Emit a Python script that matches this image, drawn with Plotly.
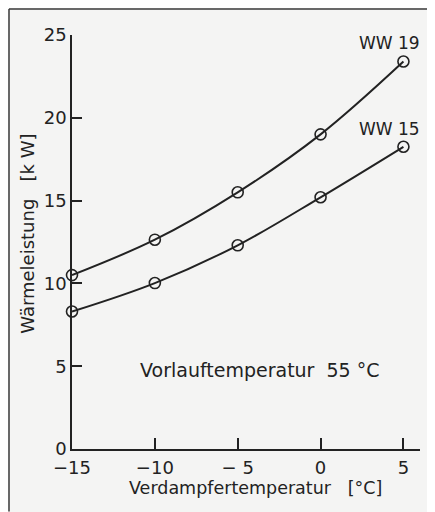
import plotly.graph_objects as go

# Data
verdampfer_temp = [-15, -10, -5, 0, 5]          # °C
ww19_kw = [10.5, 12.64, 15.5, 19.0, 23.4]
ww15_kw = [8.3, 10.02, 12.3, 15.2, 18.25]
x_ticks = [-15, -10, -5, 0, 5]
x_ticklabels = ["−15", "−10", "− 5", "0", "5"]
y_ticks = [0, 5, 10, 15, 20, 25]
y_ticklabels = ["0", "5", "10", "15", "20", "25"]

OFF = 8  # page body margin offset
W, H = 435 - OFF, 512 - OFF
ML, MR, MT = 72 - OFF, 15, 35 - OFF
PW = W - ML - MR
PH = 414.5
MB = H - MT - PH

INK = "#222222"
BG = "#f4f4f3"
FONT = "DejaVu Sans"

fig = go.Figure()
for ys in (ww19_kw, ww15_kw):
    fig.add_trace(go.Scatter(
        x=verdampfer_temp, y=ys, mode="lines+markers",
        line=dict(color=INK, width=2, shape="spline", smoothing=1.0),
        marker=dict(symbol="circle-open", size=11, color=INK, line=dict(width=1.6, color=INK)),
        cliponaxis=False, showlegend=False, hoverinfo="x+y",
    ))

def px2paper_x(px):
    # px given in screenshot coordinates
    return (px - OFF - ML) / PW

def px2paper_y(py):
    return (H - MB - (py - OFF)) / PH

shapes = [
    dict(type="line", xref="paper", yref="paper",
         x0=px2paper_x(9), x1=px2paper_x(9), y0=px2paper_y(9), y1=px2paper_y(512),
         line=dict(color="#3a3a3a", width=1.5)),
    dict(type="line", xref="paper", yref="paper",
         x0=px2paper_x(9), x1=px2paper_x(440), y0=px2paper_y(9), y1=px2paper_y(9),
         line=dict(color="#3a3a3a", width=1.5)),
]

annotations = [
    dict(x=4.15, y=24.5, xref="x", yref="y", text="WW 19", showarrow=False,
         xanchor="center", yanchor="middle",
         font=dict(size=17, color=INK, family=FONT)),
    dict(x=4.15, y=19.3, xref="x", yref="y", text="WW 15", showarrow=False,
         xanchor="center", yanchor="middle",
         font=dict(size=17, color=INK, family=FONT)),
    dict(x=-3.65, y=4.75, xref="x", yref="y", text="Vorlauftemperatur  55 °C", showarrow=False,
         xanchor="center", yanchor="middle",
         font=dict(size=19, color=INK, family=FONT)),
    dict(x=px2paper_x(255), y=px2paper_y(489), xref="paper", yref="paper",
         text="Verdampfertemperatur   [°C]", showarrow=False,
         xanchor="center", yanchor="middle",
         font=dict(size=17.5, color=INK, family=FONT)),
    dict(x=px2paper_x(28), y=px2paper_y(234), xref="paper", yref="paper",
         text="Wärmeleistung   [k W]", showarrow=False, textangle=-90,
         xanchor="center", yanchor="middle",
         font=dict(size=18, color=INK, family=FONT)),
]

fig.update_layout(
    width=W, height=H,
    margin=dict(l=ML, r=MR, t=MT, b=MB, pad=0),
    paper_bgcolor=BG, plot_bgcolor=BG,
    font=dict(family=FONT, color=INK, size=18),
    shapes=shapes, annotations=annotations,
    xaxis=dict(range=[-15, 6], showgrid=False, zeroline=False, showline=True,
               linecolor=INK, linewidth=1.5, ticks="inside", ticklen=11, tickwidth=1.5,
               tickcolor=INK, tickvals=x_ticks, ticktext=x_ticklabels, ticklabelstandoff=2,
               tickfont=dict(size=18, family=FONT, color=INK), fixedrange=True),
    yaxis=dict(range=[0, 25], showgrid=False, zeroline=False, showline=True,
               linecolor=INK, linewidth=1.5, ticks="inside", ticklen=10, tickwidth=1.5,
               tickcolor=INK, tickvals=y_ticks, ticktext=y_ticklabels,
               tickfont=dict(size=18, family=FONT, color=INK), fixedrange=True),
)

fig.write_html("out.html")
